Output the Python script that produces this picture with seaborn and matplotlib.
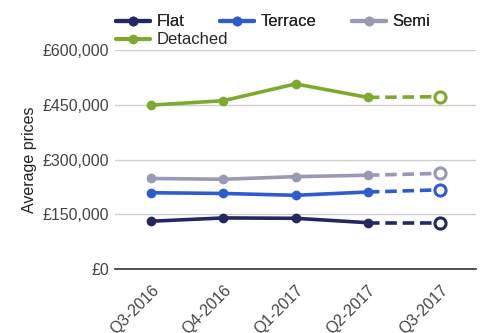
import matplotlib
matplotlib.use("Agg")
import matplotlib.pyplot as plt
import seaborn as sns
import pandas as pd
from matplotlib.lines import Line2D

quarters = ["Q3-2016", "Q4-2016", "Q1-2017", "Q2-2017", "Q3-2017"]
flat = [131000, 140000, 139000, 127000, 127000]
terrace = [209000, 207000, 202000, 211000, 217000]
semi = [248000, 246000, 253000, 257000, 262000]
detached = [449000, 461000, 507000, 470000, 472000]

series_names = ["Flat", "Terrace", "Semi", "Detached"]
series_values = [flat, terrace, semi, detached]
colors = ["#242860", "#2e5ccf", "#9899b2", "#7fa92e"]

sns.set_theme(style="white")
plt.rcParams["font.family"] = ["Liberation Sans", "DejaVu Sans"]

rows = []
for name, vals in zip(series_names, series_values):
    for i, (q, v) in enumerate(zip(quarters, vals)):
        rows.append({"type": name, "quarter": q, "idx": i, "price": v})
df = pd.DataFrame(rows)

fig = plt.figure(figsize=(4.83, 3.33), dpi=100)
ax = fig.add_axes([0.238, 0.192, 0.748, 0.658])

for name, col in zip(series_names, colors):
    d = df[df["type"] == name]
    actual = d[d["idx"] <= 3]
    fcast = d[d["idx"] >= 3]
    sns.lineplot(data=actual, x="idx", y="price", ax=ax, color=col, lw=2.6,
                 marker="o", markersize=7, markeredgewidth=0, legend=False)
    sns.lineplot(data=fcast, x="idx", y="price", ax=ax, color=col, lw=2.6,
                 linestyle=(0, (3.2, 1.6)), legend=False)
    last = d[d["idx"] == 4]
    ax.plot(last["idx"], last["price"], "o", ms=8, mfc="white", mec=col, mew=2.2,
            zorder=5)

ax.set_xlim(-0.5, 4.5)
ax.set_ylim(0, 600000)
ax.set_yticks([0, 150000, 300000, 450000, 600000])
ax.set_yticklabels(["£0", "£150,000", "£300,000", "£450,000", "£600,000"],
                   fontsize=11.5, color="#444444")
ax.set_xticks(range(len(quarters)))
ax.set_xticklabels(quarters, rotation=45, ha="right", rotation_mode="anchor",
                   fontsize=11.5, color="#444444")
ax.tick_params(axis="x", length=0, pad=10)
ax.tick_params(axis="y", length=0, pad=4)
ax.set_xlabel("")
ax.set_ylabel("Average prices", fontsize=11.5, color="#222222")
ax.yaxis.set_label_coords(-0.216, 0.5)

ax.grid(axis="y", color="#cccccc", lw=1)
ax.set_axisbelow(True)
for s in ["top", "right", "left"]:
    ax.spines[s].set_visible(False)
ax.spines["bottom"].set_color("#333333")
ax.spines["bottom"].set_linewidth(1.2)

# legend: first row Flat / Terrace / Semi, second row Detached
handles = [Line2D([0], [0], color=c, lw=3, marker="o", ms=7, markeredgewidth=0)
           for c in colors]
leg_kw = dict(loc="center left", frameon=False, fontsize=12, handlelength=2.05,
              handletextpad=0.38, columnspacing=2.15, borderpad=0,
              borderaxespad=0)
leg1 = fig.legend(handles[:3], series_names[:3], ncol=3,
                  bbox_to_anchor=(0.240, 0.934), **leg_kw)
fig.add_artist(leg1)
fig.legend(handles[3:], series_names[3:], ncol=1,
           bbox_to_anchor=(0.240, 0.880), **leg_kw)

fig.savefig("out.png", dpi=100)
